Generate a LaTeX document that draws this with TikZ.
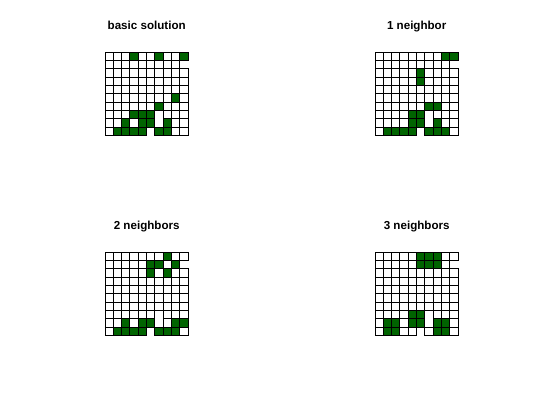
\documentclass[tikz,border=0pt]{standalone}
\usepackage{fontspec}
\setmainfont{Liberation Sans}
\definecolor{dkgreen}{RGB}{0,100,0}
\tikzset{
  cell/.style={draw=black,line width=1pt},
  title/.style={font=\fontsize{11.6}{14}\selectfont\bfseries,anchor=base,inner sep=0pt}
}
% one 10x10 board: left, top, list of filled cells col/row
\newcommand{\board}[3]{%
  \foreach \r in {1,...,10}{
    \foreach \c in {1,...,10}{
      \pgfmathtruncatemacro\hole{(\c==10 && \r==2) || (\c==7 && \r==8) || (\c==7 && \r==9) || (\c==6 && \r==10)}
      \ifnum\hole=0
        \draw[cell] ({#1+(\c-1)*8.33},{#2+(\r-1)*8.33}) rectangle ++(8.33,8.33);
      \fi
    }
  }
  \foreach \c/\r in {#3}
    \draw[cell,fill=dkgreen] ({#1+(\c-1)*8.33},{#2+(\r-1)*8.33}) rectangle ++(8.33,8.33);
}
\begin{document}
\begin{tikzpicture}[x=1pt,y=-1pt]
\useasboundingbox (0,0) rectangle (540,400);

\node[title] (basic) at (146.7,29.3) {basic solution};
\node[title] (one) at (416.7,29.3) {1 neighbor};
\node[title] (two) at (146.7,229.3) {2 neighbors};
\node[title] (three) at (416.7,229.3) {3 neighbors};

\board{105}{52.3}{4/1,7/1,10/1,9/6,7/7,4/8,5/8,6/8,3/9,5/9,6/9,8/9,2/10,3/10,4/10,5/10,7/10,8/10}
\board{375}{52.3}{9/1,10/1,6/3,6/4,7/7,8/7,5/8,6/8,5/9,6/9,8/9,2/10,3/10,4/10,5/10,7/10,8/10,9/10}
\board{105}{252.3}{8/1,6/2,7/2,9/2,6/3,8/3,3/9,5/9,6/9,9/9,10/9,2/10,3/10,4/10,5/10,7/10,8/10,9/10}
\board{375}{252.3}{6/1,7/1,8/1,6/2,7/2,8/2,5/8,6/8,2/9,3/9,5/9,6/9,8/9,9/9,2/10,3/10,8/10,9/10}
\end{tikzpicture}
\end{document}
